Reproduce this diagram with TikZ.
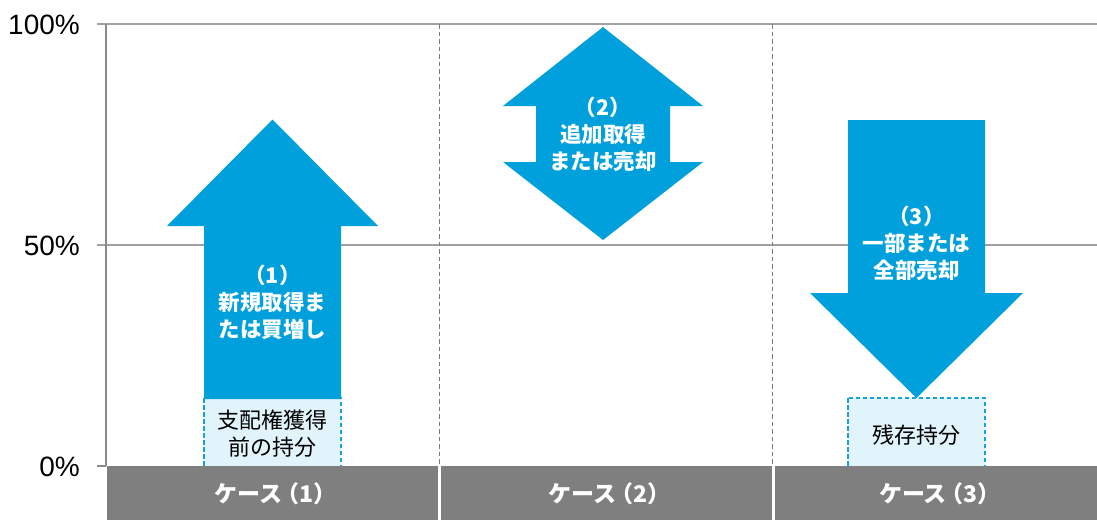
\documentclass[tikz,border=0pt]{standalone}
\usepackage{fontspec}
\setmainfont{Liberation Sans}
\newfontfamily\jp{Noto Sans CJK JP}
\definecolor{arrowblue}{HTML}{00A0DC}
\definecolor{boxfill}{HTML}{E1F3FB}
\definecolor{boxline}{HTML}{1AA0DC}
\definecolor{gridgray}{HTML}{A0A0A0}
\definecolor{axisgray}{HTML}{8A8A8A}
\definecolor{sepgray}{HTML}{7A7A7A}
\definecolor{bargray}{HTML}{7F7F7F}
\tikzset{
  gridline/.style={draw=gridgray,line width=1.5pt},
  axisline/.style={draw=axisgray,line width=1.5pt},
  sepline/.style={draw=sepgray,line width=1.8pt,dash pattern=on 4.5pt off 3pt},
  bigarrow/.style={fill=arrowblue,draw=none},
  holdbox/.style={fill=boxfill,draw=boxline,line width=1.6pt,dash pattern=on 4.5pt off 2.5pt},
  casebar/.style={fill=bargray,draw=none},
  pct/.style={font=\fontsize{28}{32}\selectfont,anchor=east,inner sep=0pt},
  arrtext/.style={font=\jp\bfseries\fontsize{21.5}{27}\selectfont,text=white,align=center,inner sep=0pt},
  boxtext/.style={font=\jp\fontsize{22}{27}\selectfont,text=black,align=center,inner sep=0pt},
  bartext/.style={font=\jp\bfseries\fontsize{23}{27}\selectfont,text=white,inner sep=0pt}
}
\begin{document}
\begin{tikzpicture}[x=1pt,y=-1pt]
\useasboundingbox (0,0) rectangle (1097,520);
% grid and axis
\coordinate (g100a) at (97,24);  \coordinate (g100b) at (1097,24);
\coordinate (g50a) at (97,245);  \coordinate (g50b) at (1097,245);
\coordinate (g0a) at (97,466);   \coordinate (g0b) at (106,466);
\coordinate (axtop) at (106,24); \coordinate (axbot) at (106,466);
\draw[gridline] (g100a) -- (g100b);
\draw[gridline] (g50a) -- (g50b);
\draw[axisline] (g0a) -- (g0b);
\draw[axisline] (axtop) -- (axbot);
\coordinate (s1t) at (439.5,24); \coordinate (s1b) at (439.5,466);
\coordinate (s2t) at (772.5,24); \coordinate (s2b) at (772.5,466);
\draw[sepline] (s1t) -- (s1b);
\draw[sepline] (s2t) -- (s2b);
\node[pct] (p100) at (80,25) {100\%};
\node[pct] (p50) at (80,246) {50\%};
\node[pct] (p0) at (80,467) {0\%};
% holding boxes
\draw[holdbox] (204,398) rectangle (341,470);
\draw[holdbox] (848,398) rectangle (985,470);
% arrow 1 (up)
\fill[bigarrow] (204,399) -- (204,226) -- (167,226) -- (272.5,119.5) -- (378,226) -- (341,226) -- (341,399) -- cycle;
% arrow 2 (double)
\fill[bigarrow] (603,27) -- (703,106) -- (670,106) -- (670,162) -- (703,162) -- (603,240) -- (503,162) -- (536,162) -- (536,106) -- (503,106) -- cycle;
% arrow 3 (down)
\fill[bigarrow] (848,120) -- (985,120) -- (985,293) -- (1023,293) -- (916.5,398) -- (810,293) -- (848,293) -- cycle;
% case bars
\fill[casebar] (107,466) rectangle (438,520);
\fill[casebar] (441,466) rectangle (772,520);
\fill[casebar] (775,466) rectangle (1097,520);
% texts
\node[arrtext] (t1) at (272.5,302) {（1）\\新規取得ま\\たは買増し};
\node[arrtext] (t2) at (603,134) {（2）\\追加取得\\または売却};
\node[arrtext] (t3) at (916.5,243) {（3）\\一部または\\全部売却};
\node[boxtext] (b1) at (272.5,434) {支配権獲得\\前の持分};
\node[boxtext] (b3) at (916.5,435) {残存持分};
\node[bartext] (c1) at (272.5,494) {ケース\kern-6pt（1）\kern-6pt};
\node[bartext] (c2) at (606.5,494) {ケース\kern-6pt（2）\kern-6pt};
\node[bartext] (c3) at (937,494) {ケース\kern-6pt（3）\kern-6pt};
\end{tikzpicture}
\end{document}
